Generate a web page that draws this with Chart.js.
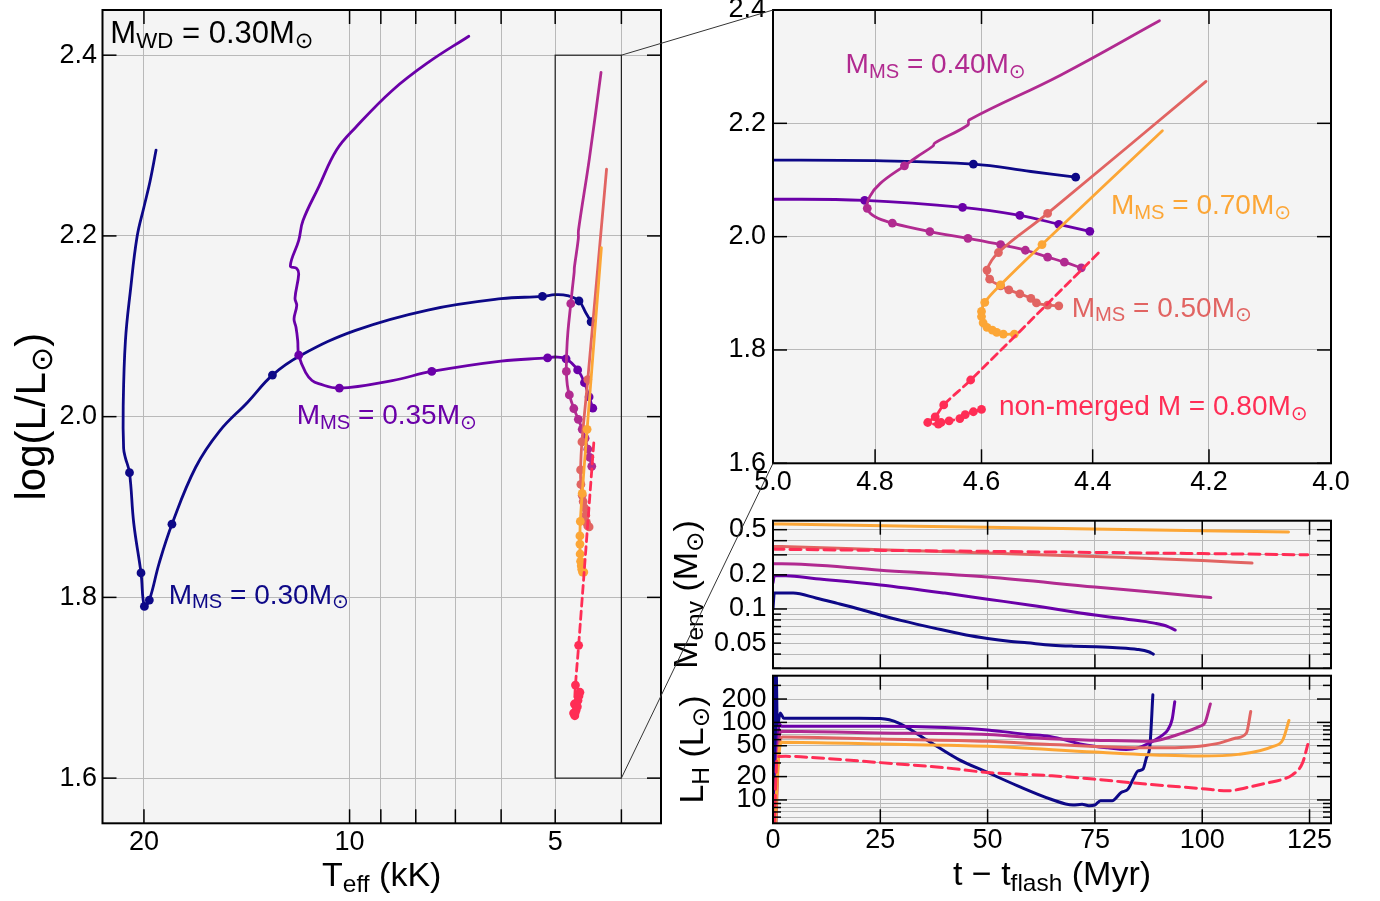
<!DOCTYPE html>
<html><head><meta charset="utf-8">
<script src="https://cdn.jsdelivr.net/npm/chart.js@4.4.1/dist/chart.umd.min.js"></script>
<style>
html,body{margin:0;padding:0;background:#fff;width:1380px;height:901px;overflow:hidden;}
.box{position:absolute;}
canvas{display:block;}
#overlay{position:absolute;left:0;top:0;pointer-events:none;}
</style></head><body>
<div class="box" id="bL" style="left:0;top:0;width:670px;height:901px"><canvas id="cL" width="670" height="901"></canvas></div>
<div class="box" id="bZ" style="left:680px;top:0;width:700px;height:500px"><canvas id="cZ" width="700" height="500"></canvas></div>
<div class="box" id="bM" style="left:660px;top:500px;width:720px;height:172px"><canvas id="cM" width="720" height="172"></canvas></div>
<div class="box" id="bH" style="left:660px;top:672px;width:720px;height:229px"><canvas id="cH" width="720" height="229"></canvas></div>
<canvas id="overlay" width="1380" height="901"></canvas>
<script>
// ---------------- DATA ----------------
// HR tracks: [Teff (kK), log(L/Lsun)]
const hr030 = [[19.2,2.295],[19.6,2.26],[20.0,2.232],[20.47,2.199],[20.93,2.140],[21.29,2.084],[21.45,2.011],[21.42,1.965],[21.3,1.955],[21.0,1.938],[20.7,1.882],[20.2,1.827],[19.97,1.790],[19.64,1.797],[19.0,1.838],[18.2,1.881],[16.8,1.944],[15.5,1.984],[14.1,2.016],[12.97,2.046],[11.78,2.068],[9.8,2.0955],[7.68,2.118],[6.0,2.1305],[5.22,2.133],[5.0,2.135],[4.80,2.134],[4.615,2.128],[4.51,2.115],[4.43,2.105]];
const hr030Dots = [[21.0,1.938],[20.2,1.827],[19.97,1.790],[19.64,1.797],[18.2,1.881],[12.97,2.046],[5.22,2.133],[4.615,2.128],[4.43,2.105]];
const hr035 = [[6.69,2.421],[7.67,2.392],[8.66,2.361],[9.80,2.320],[10.45,2.295],[11.1,2.254],[11.70,2.217],[11.87,2.195],[12.21,2.167],[11.95,2.164],[11.87,2.158],[12.02,2.131],[11.95,2.123],[12.06,2.108],[11.98,2.099],[11.91,2.084],[11.87,2.068],[11.6,2.049],[11.35,2.040],[11.1,2.0365],[10.35,2.0316],[8.66,2.040],[7.58,2.050],[6.0,2.0615],[5.13,2.065],[5.0,2.066],[4.82,2.064],[4.635,2.0517],[4.53,2.0376],[4.46,2.0218],[4.405,2.0094]];
const hr035Dots = [[11.87,2.068],[10.35,2.0316],[7.58,2.050],[5.13,2.065],[4.82,2.064],[4.635,2.0517],[4.53,2.0376],[4.46,2.0218],[4.405,2.0094]];
const hr040 = [[4.284,2.381],[4.457,2.285],[4.623,2.206],[4.625,2.197],[4.687,2.165],[4.69,2.160],[4.72,2.141],[4.744,2.125],[4.79,2.094],[4.81,2.071],[4.815,2.050],[4.80,2.035],[4.767,2.024],[4.696,2.009],[4.625,1.997],[4.565,1.986],[4.52,1.976],[4.48,1.964],[4.45,1.955],[4.42,1.945]];
const hr040Dots = [[4.744,2.125],[4.815,2.050],[4.767,2.024],[4.696,2.009],[4.625,1.997],[4.565,1.986],[4.52,1.976],[4.48,1.964],[4.45,1.955],[4.42,1.945]];
const hr050 = [[4.205,2.274],[4.48,2.041],[4.569,1.972],[4.59,1.941],[4.585,1.925],[4.565,1.913],[4.55,1.906],[4.53,1.899],[4.51,1.891],[4.50,1.883],[4.48,1.879],[4.46,1.878]];
const hr050Dots = [[4.48,2.041],[4.569,1.972],[4.59,1.941],[4.585,1.925],[4.565,1.913],[4.55,1.906],[4.53,1.899],[4.51,1.891],[4.50,1.883],[4.48,1.879],[4.46,1.878]];
const hr070 = [[4.279,2.187],[4.49,1.986],[4.565,1.915],[4.594,1.884],[4.60,1.868],[4.60,1.859],[4.597,1.848],[4.59,1.840],[4.58,1.835],[4.572,1.831],[4.56,1.828],[4.54,1.828]];
const hr070Dots = [[4.49,1.986],[4.565,1.915],[4.594,1.884],[4.60,1.868],[4.60,1.859],[4.597,1.848],[4.59,1.840],[4.58,1.835],[4.572,1.831],[4.56,1.828],[4.54,1.828]];
const hr080 = [[4.39,1.971],[4.62,1.747],[4.67,1.703],[4.686,1.682],[4.70,1.672],[4.68,1.669],[4.675,1.672],[4.66,1.675],[4.64,1.679],[4.63,1.686],[4.615,1.691],[4.60,1.695]];
const hr080Dots = [[4.62,1.747],[4.67,1.703],[4.686,1.682],[4.70,1.672],[4.68,1.669],[4.675,1.672],[4.66,1.675],[4.64,1.679],[4.63,1.686],[4.615,1.691],[4.60,1.695]];

// Envelope mass vs time: [t - t_flash (Myr), M_env (Msun)]
const menv030 = [[0,0.100],[0.3,0.138],[4.7,0.138],[10,0.125],[15,0.112],[20,0.100],[25,0.0885],[30,0.079],[37.8,0.0675],[45,0.059],[50,0.055],[55,0.052],[59.2,0.0503],[65,0.048],[70,0.047],[75,0.0464],[80,0.0455],[84.9,0.044],[87.5,0.042],[88.6,0.040]];
const menv035 = [[0,0.17],[0.3,0.196],[3,0.196],[10,0.185],[25,0.163],[40,0.138],[50,0.122],[60,0.108],[75,0.0885],[85,0.079],[89.1,0.0747],[92,0.070],[93.7,0.0652]];
const menv040 = [[0,0.25],[2,0.25],[25,0.22],[50,0.191],[75,0.156],[90,0.139],[102,0.126]];
const menv050 = [[0,0.356],[2,0.355],[25,0.333],[50,0.311],[75,0.29],[100,0.268],[111.6,0.254]];
const menv070 = [[0,0.562],[2,0.56],[50,0.525],[100,0.49],[120.1,0.477]];
const menv080 = [[0,0.337],[2,0.336],[50,0.322],[100,0.308],[124.6,0.300]];

// Hydrogen-burning luminosity vs time: [t - t_flash (Myr), L_H (Lsun)]
const lh030 = [[0,4],[0.15,450],[0.3,4],[0.45,450],[0.6,4],[0.75,450],[1.0,90],[1.7,132],[2.5,113],[10,113],[20,113],[25,112],[29.3,98],[35.7,60],[43.2,33.4],[50,22.6],[57,15.2],[64.6,10.3],[69.9,8.6],[72,8.8],[73.6,8.45],[75,8.6],[76.3,9.8],[79,9.8],[81.1,12.5],[82.7,13.8],[83.9,18.5],[85,23.6],[86.2,24.9],[87,35],[87.8,49.3],[88.5,227]];
const lh035 = [[0.5,5],[1,40],[1.5,95],[2,89],[25,89],[40,86],[50,80],[59.2,70],[64.5,66],[72.2,52],[78,47],[82.3,44.8],[85,47],[87.8,54.6],[90.9,69.6],[92,80.6],[93,110],[93.6,185]];
const lh040 = [[0.6,5],[1.2,40],[1.6,72],[2,76.7],[25,73],[50,69.6],[64.5,61.4],[75,59],[87.8,57],[95.5,73.3],[99.4,89],[100.6,98],[101.9,173]];
const lh050 = [[0.7,5],[1.3,40],[1.8,62],[2.2,65],[25,61],[50,57],[64.5,52],[75,49],[87.8,47],[95,47.5],[99.4,49.3],[104,54],[107.9,63],[110.3,73],[111.3,138]];
const lh070 = [[0.5,5],[1,20],[1.5,45],[2,55.5],[25,52.5],[50,49.3],[75,41.4],[91.3,37.6],[99.4,36.8],[108.4,38.7],[116.5,49],[118.8,60],[120.2,106]];
const lh080 = [[0.3,5],[1,36],[3,36.5],[10,35],[25,30.3],[40,26],[50,22.6],[65,20.5],[75,18.5],[87,16],[100,14],[106,13.1],[110,14.3],[115,16.5],[118.8,18.5],[121,21],[123.4,30.3],[124.6,52]];

// Ticks
const hrTeffTicks = [20,10,9,8,7,6,5,4];
const hrTeffLabels = [20,10,5];
const hrLogLTicks = [1.6,1.8,2.0,2.2,2.4];
const zoomTeffTicks = [5.0,4.8,4.6,4.4,4.2,4.0];
const zoomLogLTicks = [1.6,1.8,2.0,2.2,2.4];
const timeTicks = [0,25,50,75,100,125];
const menvTicks = [0.03,0.04,0.05,0.06,0.07,0.08,0.09,0.1,0.2,0.3,0.4,0.5];
const menvLabels = [0.05,0.1,0.2,0.5];
const lhTicks = [6,7,8,9,10,20,30,40,50,60,70,80,90,100,200,300];
const lhLabels = [10,20,50,100,200];

// Labels
const seriesLabels = ['M_{MS} = 0.30M_{⊙}','M_{MS} = 0.35M_{⊙}','M_{MS} = 0.40M_{⊙}','M_{MS} = 0.50M_{⊙}','M_{MS} = 0.70M_{⊙}','non-merged M = 0.80M_{⊙}'];
const wdLabel = 'M_{WD} = 0.30M_{⊙}';

// ---------------- STYLE ----------------
const FONT = '"Liberation Sans","DejaVu Sans",Arial,sans-serif';
const COLS = ['#0d0887','#6a00a8','#b12a90','#e16462','#fca636','#ff2d55'];
const BG = '#f4f4f4', GRID = '#b9b9b9';
const TICKFS = 27, TITLEFS = 34, NOTEFS = 28;

const xy = a => a.map(p => ({x:p[0], y:p[1]}));
const DECOR = {};

function parseRich(str){
  const segs=[]; const re=/_\{([^}]*)\}/g; let last=0,m;
  while((m=re.exec(str))){ if(m.index>last) segs.push({t:str.slice(last,m.index),sub:false}); segs.push({t:m[1],sub:true}); last=re.lastIndex; }
  if(last<str.length) segs.push({t:str.slice(last),sub:false});
  return segs;
}
function drawRich(ctx,str,x,y,size,color,align,rot){
  const segs=parseRich(str);
  ctx.save(); ctx.translate(x,y); if(rot) ctx.rotate(rot);
  ctx.fillStyle=color; ctx.textBaseline='alphabetic'; ctx.textAlign='left';
  const ws=[]; let w=0;
  for(const s of segs){ ctx.font=(s.sub?size*0.72:size)+'px '+FONT; const mw=ctx.measureText(s.t).width; ws.push(mw); w+=mw; }
  let cx = align==='center' ? -w/2 : 0;
  segs.forEach((s,i)=>{ ctx.font=(s.sub?size*0.72:size)+'px '+FONT; ctx.fillText(s.t,cx,s.sub?size*0.17:0); cx+=ws[i]; });
  ctx.restore();
}
const inList = (arr,v) => arr.some(l => Math.abs(l-v) <= 1e-9*Math.max(1,Math.abs(l)));

const decor = {
  id:'decor',
  beforeDraw(chart){
    const a=chart.chartArea, c=chart.ctx;
    c.save(); c.fillStyle=BG; c.fillRect(a.left,a.top,a.right-a.left,a.bottom-a.top); c.restore();
  },
  afterDatasetsDraw(chart){
    const d=DECOR[chart.canvas.id]; const a=chart.chartArea, c=chart.ctx;
    const xs=chart.scales.x, ys=chart.scales.y;
    c.save();
    c.strokeStyle='#000'; c.lineWidth=1.5;
    const seg=(x1,y1,x2,y2)=>{c.beginPath();c.moveTo(x1,y1);c.lineTo(x2,y2);c.stroke();};
    xs.ticks.forEach(t=>{ const p=xs.getPixelForValue(t.value); const L=(d.longX===true||inList(d.longX||[],t.value))?14:8; seg(p,a.bottom,p,a.bottom-L); seg(p,a.top,p,a.top+L); });
    ys.ticks.forEach(t=>{ const p=ys.getPixelForValue(t.value); const L=(d.longY===true||inList(d.longY||[],t.value))?14:8; seg(a.left,p,a.left+L,p); seg(a.right,p,a.right-L,p); });
    if(d.inset){
      c.lineWidth=1.2; c.strokeStyle='#222';
      const x1=xs.getPixelForValue(d.inset[0]), x2=xs.getPixelForValue(d.inset[1]);
      const y1=ys.getPixelForValue(d.inset[2]), y2=ys.getPixelForValue(d.inset[3]);
      c.strokeRect(Math.min(x1,x2),Math.min(y1,y2),Math.abs(x2-x1),Math.abs(y2-y1));
    }
    c.lineWidth=2; c.strokeStyle='#000';
    c.strokeRect(a.left,a.top,a.right-a.left,a.bottom-a.top);
    c.restore();
  },
  afterDraw(chart){
    const d=DECOR[chart.canvas.id]; const a=chart.chartArea, c=chart.ctx;
    const xs=chart.scales.x, ys=chart.scales.y;
    (d.notes||[]).forEach(n=>{
      drawRich(c,n.text,xs.getPixelForValue(n.x),ys.getPixelForValue(n.y),n.size,n.color,'left',0);
    });
    if(d.xTitle) drawRich(c,d.xTitle[0],(a.left+a.right)/2,a.bottom+d.xTitle[1],d.xTitle[2]||TITLEFS,'#000','center',0);
    if(d.yTitle) drawRich(c,d.yTitle[0],a.left-d.yTitle[1],(a.top+a.bottom)/2,d.yTitle[2]||TITLEFS,'#000','center',-Math.PI/2);
  }
};

function axis(type,min,max,ticksArr,labelsArr,o){
  return {
    type, min, max, reverse: !!o.reverse,
    grid:{color:GRID,lineWidth:1,drawTicks:false},
    border:{display:false},
    ticks:{autoSkip:false,maxRotation:0,minRotation:0,padding:o.pad,display:o.show!==false,
      font:{family:FONT,size:TICKFS},color:'#000',
      callback:(v)=> inList(labelsArr,v) ? o.fmt(v) : ''},
    afterBuildTicks:s=>{ s.ticks = ticksArr.map(v=>({value:v})); },
    afterFit:s=>{ if(s.isHorizontal()) s.height=o.size; else s.width=o.size;
      s.paddingLeft=0; s.paddingRight=0; s.paddingTop=0; s.paddingBottom=0; }
  };
}

function lineSet(arr,color,w,dash,order,smooth){
  const ds={data:xy(arr),showLine:true,borderColor:color,backgroundColor:color,borderWidth:w,pointRadius:0,borderDash:dash||[],order,
    borderJoinStyle:'round',borderCapStyle:'round'};
  if(smooth==='mono'){ ds.cubicInterpolationMode='monotone'; } else { ds.tension=smooth||0; }
  return ds;
}
function dotSet(arr,color,order){
  return {data:xy(arr),showLine:false,backgroundColor:color,borderColor:color,borderWidth:0,pointRadius:4.4,order};
}
function hrDatasets(){
  const L=[hr030,hr035,hr040,hr050,hr070,hr080], D=[hr030Dots,hr035Dots,hr040Dots,hr050Dots,hr070Dots,hr080Dots];
  const out=[];
  L.forEach((arr,i)=>{ out.push(lineSet(arr,COLS[i],2.8,i===5?[8,5]:null,-(2*i),0.4)); out.push(dotSet(D[i],COLS[i],-(2*i+1))); });
  return out;
}
function tsDatasets(series){
  return series.map((arr,i)=>lineSet(arr,COLS[i],3,i===5?[11,6]:null,-i,'mono'));
}
function baseOpts(pad){
  return {responsive:false,animation:false,events:[],
    layout:{padding:pad},
    plugins:{legend:{display:false},tooltip:{enabled:false}}};
}

Chart.defaults.font.family = FONT;

// Left: HR diagram
DECOR.cL = {longX:true,longY:true,inset:[5,4,2.4,1.6],
  xTitle:['T_{eff} (kK)',63], yTitle:['log(L/L_{⊙})',58,42],
  notes:[
    {text:wdLabel,x:22.4,y:2.414,size:31,color:'#000'},
    {text:seriesLabels[0],x:18.4,y:1.793,size:NOTEFS,color:COLS[0]},
    {text:seriesLabels[1],x:11.95,y:1.992,size:NOTEFS,color:COLS[1]}
  ]};
const chartL = new Chart(document.getElementById('cL'),{
  type:'scatter', data:{datasets:hrDatasets()},
  options:Object.assign(baseOpts({left:0,top:10,right:9,bottom:0}),{
    scales:{
      x:axis('logarithmic',3.5,23,hrTeffTicks,hrTeffLabels,{reverse:true,pad:3,size:77.7,fmt:v=>String(Math.round(v))}),
      y:axis('linear',1.55,2.45,hrLogLTicks,hrLogLTicks,{pad:5.5,size:102.5,fmt:v=>v.toFixed(1)})
    }}),
  plugins:[decor]
});

// Top-right: zoom
DECOR.cZ = {longX:true,longY:true,
  notes:[
    {text:seriesLabels[2],x:4.857,y:2.288,size:NOTEFS,color:COLS[2]},
    {text:seriesLabels[4],x:4.368,y:2.040,size:NOTEFS,color:COLS[4]},
    {text:seriesLabels[3],x:4.437,y:1.8587,size:NOTEFS,color:COLS[3]},
    {text:seriesLabels[5],x:4.568,y:1.685,size:NOTEFS,color:COLS[5]}
  ]};
const chartZ = new Chart(document.getElementById('cZ'),{
  type:'scatter', data:{datasets:hrDatasets()},
  options:Object.assign(baseOpts({left:0,top:10,right:49,bottom:0}),{
    scales:{
      x:axis('logarithmic',4.0,5.0,zoomTeffTicks,zoomTeffTicks,{reverse:true,pad:3,size:36.7,fmt:v=>v.toFixed(1)}),
      y:axis('linear',1.6,2.4,zoomLogLTicks,zoomLogLTicks,{pad:7,size:93,fmt:v=>v.toFixed(1)})
    }}),
  plugins:[decor]
});

// Envelope mass
DECOR.cM = {longX:true,longY:[0.1,0.2,0.3,0.4,0.5], yTitle:['M_{env} (M_{⊙})',76]};
const chartM = new Chart(document.getElementById('cM'),{
  type:'scatter', data:{datasets:tsDatasets([menv030,menv035,menv040,menv050,menv070,menv080])},
  options:Object.assign(baseOpts({left:0,top:20.7,right:49,bottom:0}),{
    scales:{
      x:axis('linear',0,130,timeTicks,[],{pad:5,size:3.7,show:false,fmt:v=>String(v)}),
      y:axis('logarithmic',0.03,0.6,menvTicks,menvLabels,{pad:6.5,size:113,fmt:v=>String(+v.toFixed(2))})
    }}),
  plugins:[decor]
});

// Hydrogen luminosity
DECOR.cH = {longX:true,longY:[10,20,50,100,200], xTitle:['t − t_{flash} (Myr)',62], yTitle:['L_{H} (L_{⊙})',70]};
const chartH = new Chart(document.getElementById('cH'),{
  type:'scatter', data:{datasets:tsDatasets([lh030,lh035,lh040,lh050,lh070,lh080])},
  options:Object.assign(baseOpts({left:0,top:3.7,right:49,bottom:0}),{
    scales:{
      x:axis('linear',0,130,timeTicks,timeTicks,{pad:1,size:77.7,fmt:v=>String(v)}),
      y:axis('logarithmic',5,400,lhTicks,lhLabels,{pad:6.5,size:113,fmt:v=>String(Math.round(v))})
    }}),
  plugins:[decor]
});

// Connector lines between inset box and zoom panel
(function(){
  const ov=document.getElementById('overlay').getContext('2d');
  const bL=document.getElementById('bL'), bZ=document.getElementById('bZ');
  const xs=chartL.scales.x, ys=chartL.scales.y;
  const x4=bL.offsetLeft+xs.getPixelForValue(4);
  const yTop=bL.offsetTop+ys.getPixelForValue(2.4), yBot=bL.offsetTop+ys.getPixelForValue(1.6);
  const za=chartZ.chartArea;
  const zl=bZ.offsetLeft+za.left, zt=bZ.offsetTop+za.top, zb=bZ.offsetTop+za.bottom;
  ov.strokeStyle='#333'; ov.lineWidth=1;
  ov.beginPath(); ov.moveTo(x4,yTop); ov.lineTo(zl,zt); ov.stroke();
  ov.beginPath(); ov.moveTo(x4,yBot); ov.lineTo(zl,zb); ov.stroke();
})();
</script>
</body></html>
